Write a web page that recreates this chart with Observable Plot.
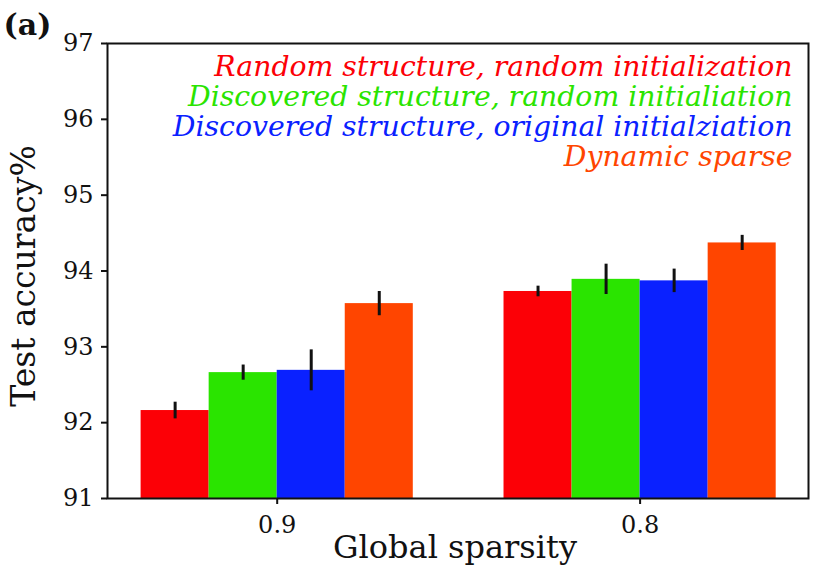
<!DOCTYPE html>
<html>
<head>
<meta charset="utf-8">
<script src="https://cdn.jsdelivr.net/npm/d3@7"></script>
<script src="https://cdn.jsdelivr.net/npm/@observablehq/plot@0.6"></script>
<style>
  html, body { margin: 0; padding: 0; background: #fff; }
  #chart { width: 830px; height: 581px; }
</style>
</head>
<body>
<div id="chart"></div>
<script>
const groups = ["0.9", "0.8"];
const series = [
  "Random structure, random initialization",
  "Discovered structure, random initialiation",
  "Discovered structure, original initialziation",
  "Dynamic sparse"
];
const colors = ["#fc0006", "#2ae400", "#0a21ff", "#ff4500"];
const acc09 = [92.16, 92.66, 92.69, 93.57];
const acc08 = [93.73, 93.89, 93.87, 94.37];
const err09 = [0.11, 0.10, 0.27, 0.16];
const err08 = [0.07, 0.20, 0.155, 0.10];
const yTicks = [91, 92, 93, 94, 95, 96, 97];
const barWidth = 0.1875;

const accs = [acc09, acc08];
const errs = [err09, err08];
const rows = [];
groups.forEach((g, gi) => {
  series.forEach((s, si) => {
    const x1 = gi - (series.length * barWidth) / 2 + si * barWidth;
    rows.push({group: g, gi, series: s, si, x1, x2: x1 + barWidth, xc: x1 + barWidth / 2,
               acc: accs[gi][si], err: errs[gi][si]});
  });
});

const legendMarks = series.map((s, i) => Plot.text([s], {
  text: d => d, frameAnchor: "top-right", textAnchor: "end",
  dx: -16, dy: 12 + i * 30, fill: colors[i],
  fontSize: 28.3, fontStyle: "italic", fontFamily: "DejaVu Serif"
}));

const chart = Plot.plot({
  width: 830,
  height: 581,
  marginLeft: 107,
  marginRight: 22,
  marginTop: 43,
  marginBottom: 83,
  style: {fontFamily: "DejaVu Serif", background: "#fff", color: "#111"},
  x: {domain: [-0.4676, 1.464], axis: null},
  y: {domain: [yTicks[0], yTicks[yTicks.length - 1]], axis: null},
  marks: [
    Plot.rectY(rows, {x1: "x1", x2: "x2", y1: yTicks[0], y2: "acc", fill: d => colors[d.si]}),
    Plot.ruleX(rows, {x: "xc", y1: d => d.acc - d.err, y2: d => d.acc + d.err, stroke: "#111", strokeWidth: 3}),
    Plot.axisY({ticks: yTicks, tickFormat: d => String(d), tickSize: 6, tickPadding: 8,
                fontSize: 24, label: null, stroke: "#111", strokeWidth: 2}),
    Plot.axisX({ticks: groups.map((g, i) => i), tickFormat: i => groups[i], tickSize: 6, tickPadding: 11,
                fontSize: 24, label: null, strokeWidth: 2}),
    Plot.frame({stroke: "#111", strokeWidth: 2}),
    ...legendMarks,
    Plot.text(["Test accuracy%"], {text: d => d, frameAnchor: "left", textAnchor: "middle", lineAnchor: "middle",
                dx: -83, dy: 5, rotate: -90, fontSize: 33, fill: "#111"}),
    Plot.text(["Global sparsity"], {text: d => d, frameAnchor: "bottom", dy: 59, dx: -3,
                fontSize: 32, fill: "#111"}),
    Plot.text(["(a)"], {text: d => d, frameAnchor: "top-left", textAnchor: "start", lineAnchor: "top",
                dx: -104, dy: -30, fontSize: 30, fontWeight: "bold", fill: "#111"})
  ]
});
document.getElementById("chart").appendChild(chart);
</script>
</body>
</html>
